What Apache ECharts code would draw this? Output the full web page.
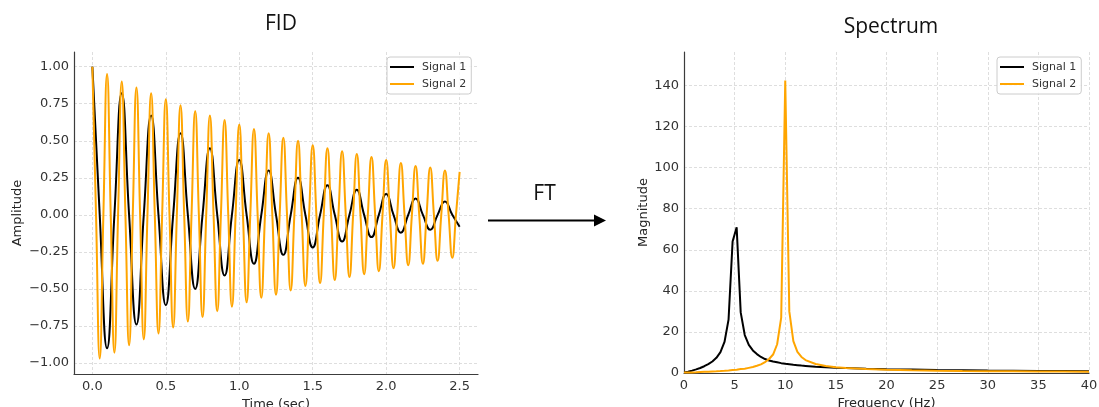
<!DOCTYPE html>
<html>
<head>
<meta charset="utf-8">
<title>FID and Spectrum</title>
<script src="https://cdn.jsdelivr.net/npm/echarts@6/dist/echarts.min.js"></script>
<style>
  html, body { margin: 0; padding: 0; background: #ffffff; }
  #chart { width: 1099px; height: 407px; }
</style>
</head>
<body>
<div id="chart"></div>
<script>
// Free induction decay: extrema and zero crossings of each damped oscillation
const fid1Time = [
  0.00, 0.05, 0.10, 0.15, 0.20, 0.25, 0.30, 0.35, 0.40, 0.45,
  0.50, 0.55, 0.60, 0.65, 0.70, 0.75, 0.80, 0.85, 0.90, 0.95,
  1.00, 1.05, 1.10, 1.15, 1.20, 1.25, 1.30, 1.35, 1.40, 1.45,
  1.50, 1.55, 1.60, 1.65, 1.70, 1.75, 1.80, 1.85, 1.90, 1.95,
  2.00, 2.05, 2.10, 2.15, 2.20, 2.25, 2.30, 2.35, 2.40, 2.45, 2.50
];
const fid1 = [
  1.00, 0, -0.90, 0, 0.82, 0, -0.74, 0, 0.67, 0,
  -0.61, 0, 0.55, 0, -0.50, 0, 0.45, 0, -0.41, 0,
  0.37, 0, -0.33, 0, 0.30, 0, -0.27, 0, 0.25, 0,
  -0.22, 0, 0.20, 0, -0.18, 0, 0.17, 0, -0.15, 0,
  0.14, 0, -0.12, 0, 0.11, 0, -0.10, 0, 0.09, 0, -0.08
];
const fid2Time = [
  0.000, 0.025, 0.050, 0.075, 0.100, 0.125, 0.150, 0.175, 0.200, 0.225,
  0.250, 0.275, 0.300, 0.325, 0.350, 0.375, 0.400, 0.425, 0.450, 0.475,
  0.500, 0.525, 0.550, 0.575, 0.600, 0.625, 0.650, 0.675, 0.700, 0.725,
  0.750, 0.775, 0.800, 0.825, 0.850, 0.875, 0.900, 0.925, 0.950, 0.975,
  1.000, 1.025, 1.050, 1.075, 1.100, 1.125, 1.150, 1.175, 1.200, 1.225,
  1.250, 1.275, 1.300, 1.325, 1.350, 1.375, 1.400, 1.425, 1.450, 1.475,
  1.500, 1.525, 1.550, 1.575, 1.600, 1.625, 1.650, 1.675, 1.700, 1.725,
  1.750, 1.775, 1.800, 1.825, 1.850, 1.875, 1.900, 1.925, 1.950, 1.975,
  2.000, 2.025, 2.050, 2.075, 2.100, 2.125, 2.150, 2.175, 2.200, 2.225,
  2.250, 2.275, 2.300, 2.325, 2.350, 2.375, 2.400, 2.425, 2.450, 2.475, 2.500
];
const fid2 = [
  1.00, 0, -0.97, 0, 0.95, 0, -0.93, 0, 0.90, 0,
  -0.88, 0, 0.86, 0, -0.84, 0, 0.82, 0, -0.80, 0,
  0.78, 0, -0.76, 0, 0.74, 0, -0.72, 0, 0.70, 0,
  -0.69, 0, 0.67, 0, -0.65, 0, 0.64, 0, -0.62, 0,
  0.61, 0, -0.59, 0, 0.58, 0, -0.56, 0, 0.55, 0,
  -0.54, 0, 0.52, 0, -0.51, 0, 0.50, 0, -0.48, 0,
  0.47, 0, -0.46, 0, 0.45, 0, -0.44, 0, 0.43, 0,
  -0.42, 0, 0.41, 0, -0.40, 0, 0.39, 0, -0.38, 0,
  0.37, 0, -0.36, 0, 0.35, 0, -0.34, 0, 0.33, 0,
  -0.33, 0, 0.32, 0, -0.31, 0, 0.30, 0, -0.29, 0, 0.29
];

// Magnitude spectrum of both signals
const specFreq = [
  0.0, 0.4, 0.8, 1.2, 1.6, 2.0, 2.4, 2.8, 3.2, 3.6,
  4.0, 4.4, 4.8, 5.2, 5.6, 6.0, 6.4, 6.8, 7.2, 7.6,
  8.0, 8.4, 8.8, 9.2, 9.6, 10.0, 10.4, 10.8, 11.2, 11.6,
  12.0, 13, 14, 15, 16, 18, 20, 22.5, 25, 27.5,
  30, 32.5, 35, 37.5, 40
];
const spec1 = [
  0.3, 0.6, 1.15, 1.75, 2.45, 3.3, 4.3, 5.6, 7.4, 10.2,
  15.1, 26.0, 64.0, 71.0, 29.5, 18.5, 13.7, 11.0, 9.2, 7.8,
  6.8, 6.1, 5.6, 5.2, 4.8, 4.5, 4.25, 4.0, 3.8, 3.6,
  3.45, 3.05, 2.8, 2.55, 2.4, 2.1, 1.85, 1.65, 1.45, 1.33,
  1.2, 1.12, 1.02, 0.96, 0.9
];
const spec2 = [
  0.2, 0.25, 0.3, 0.35, 0.45, 0.55, 0.6, 0.75, 0.85, 0.96,
  1.1, 1.25, 1.45, 1.6, 1.9, 2.1, 2.5, 2.9, 3.5, 4.2,
  5.3, 6.8, 9.0, 14.0, 27.0, 142.4, 30.0, 15.5, 10.3, 7.8,
  6.3, 4.4, 3.4, 2.8, 2.4, 1.9, 1.6, 1.35, 1.15, 1.0,
  0.9, 0.82, 0.75, 0.7, 0.65
];

// Tick positions
const timeTicks = [0, 0.5, 1.0, 1.5, 2.0, 2.5];
const ampTicks = [-1.0, -0.75, -0.5, -0.25, 0, 0.25, 0.5, 0.75, 1.0];
const magTicks = [0, 20, 40, 60, 80, 100, 120, 140];

const seriesNames = ['Signal 1', 'Signal 2'];
const lineColors = ['#000000', '#ffa500'];

const pairs = (xs, ys) => xs.map((x, i) => [x, ys[i]]);
const minusFmt = (v, digits) => (v < 0 ? '\u2212' : '') + Math.abs(v).toFixed(digits);

const tickFont = { fontFamily: 'DejaVu Sans', fontSize: 13, color: '#333333' };
const nameFont = { fontFamily: 'DejaVu Sans', fontSize: 13, color: '#262626' };
const spine = { show: true, onZero: false, lineStyle: { color: '#3c3c3c', width: 1.2 } };
const dashedGrid = { show: true, lineStyle: { color: '#d6d6d6', width: 0.8, type: [3, 2] } };
const titleFont = '21px "Open Sans"';

const legendBox = (left) => ({
  data: seriesNames,
  orient: 'vertical',
  left: left,
  top: 57,
  icon: 'rect',
  itemWidth: 24,
  itemHeight: 2,
  itemGap: 3,
  padding: [3, 5, 3, 3],
  backgroundColor: 'rgba(255,255,255,0.85)',
  borderColor: '#cccccc',
  borderWidth: 1,
  borderRadius: 3,
  selectedMode: false,
  textStyle: { fontFamily: 'DejaVu Sans', fontSize: 11, lineHeight: 14, color: '#333333', padding: [0, 0, 0, 3] }
});

const chart = echarts.init(document.getElementById('chart'), null, { renderer: 'canvas' });

chart.setOption({
  animation: false,
  backgroundColor: '#ffffff',
  grid: [
    { left: 74, top: 52, width: 404, height: 322, outerBoundsMode: 'none', containLabel: false },
    { left: 684, top: 52, width: 405, height: 321, outerBoundsMode: 'none', containLabel: false }
  ],
  xAxis: [
    {
      type: 'value', gridIndex: 0, min: -0.125, max: 2.625,
      name: 'Time (sec)', nameLocation: 'middle', nameGap: 18, nameTextStyle: nameFont,
      axisLine: spine,
      axisTick: { show: false, customValues: timeTicks },
      axisLabel: Object.assign({ customValues: timeTicks, margin: 6, formatter: v => minusFmt(v, 1) }, tickFont),
      splitLine: dashedGrid
    },
    {
      type: 'value', gridIndex: 1, min: 0, max: 40, interval: 5,
      name: 'Frequency (Hz)', nameLocation: 'middle', nameGap: 18, nameTextStyle: nameFont,
      axisLine: spine,
      axisTick: { show: false },
      axisLabel: Object.assign({ margin: 6 }, tickFont),
      splitLine: dashedGrid
    }
  ],
  yAxis: [
    {
      type: 'value', gridIndex: 0, min: -1.074, max: 1.099,
      name: 'Amplitude', nameLocation: 'middle', nameGap: 50, nameTextStyle: nameFont,
      axisLine: spine,
      axisTick: { show: false, customValues: ampTicks },
      axisLabel: Object.assign({ customValues: ampTicks, margin: 5, formatter: v => minusFmt(v, 2) }, tickFont),
      splitLine: dashedGrid
    },
    {
      type: 'value', gridIndex: 1, min: 0, max: 156.3,
      name: 'Magnitude', nameLocation: 'middle', nameGap: 34, nameTextStyle: nameFont,
      axisLine: spine,
      axisTick: { show: false, customValues: magTicks },
      axisLabel: Object.assign({ customValues: magTicks, margin: 5 }, tickFont),
      splitLine: dashedGrid
    }
  ],
  legend: [legendBox(387), legendBox(997)],
  series: [
    {
      name: seriesNames[0], type: 'line', xAxisIndex: 0, yAxisIndex: 0,
      data: pairs(fid1Time, fid1), smooth: 0.5, symbol: 'none',
      lineStyle: { color: lineColors[0], width: 2 }, itemStyle: { color: lineColors[0] }
    },
    {
      name: seriesNames[1], type: 'line', xAxisIndex: 0, yAxisIndex: 0,
      data: pairs(fid2Time, fid2), smooth: 0.5, symbol: 'none',
      lineStyle: { color: lineColors[1], width: 2 }, itemStyle: { color: lineColors[1] }
    },
    {
      name: seriesNames[0], type: 'line', xAxisIndex: 1, yAxisIndex: 1,
      data: pairs(specFreq, spec1), symbol: 'none',
      lineStyle: { color: lineColors[0], width: 2 }, itemStyle: { color: lineColors[0] }
    },
    {
      name: seriesNames[1], type: 'line', xAxisIndex: 1, yAxisIndex: 1,
      data: pairs(specFreq, spec2), symbol: 'none',
      lineStyle: { color: lineColors[1], width: 2 }, itemStyle: { color: lineColors[1] }
    }
  ],
  graphic: [
    { type: 'text', x: 281, y: 24, style: { text: 'FID', font: titleFont, fill: '#111111', align: 'center', verticalAlign: 'middle' } },
    { type: 'text', x: 891, y: 27, style: { text: 'Spectrum', font: titleFont, fill: '#111111', align: 'center', verticalAlign: 'middle' } },
    { type: 'text', x: 544.5, y: 194, style: { text: 'FT', font: titleFont, fill: '#111111', align: 'center', verticalAlign: 'middle' } },
    { type: 'line', shape: { x1: 488, y1: 220.5, x2: 596, y2: 220.5 }, style: { stroke: '#000000', lineWidth: 2 } },
    { type: 'polygon', shape: { points: [[594, 214.5], [606, 220.5], [594, 226.5]] }, style: { fill: '#000000' } }
  ]
});
</script>
</body>
</html>
